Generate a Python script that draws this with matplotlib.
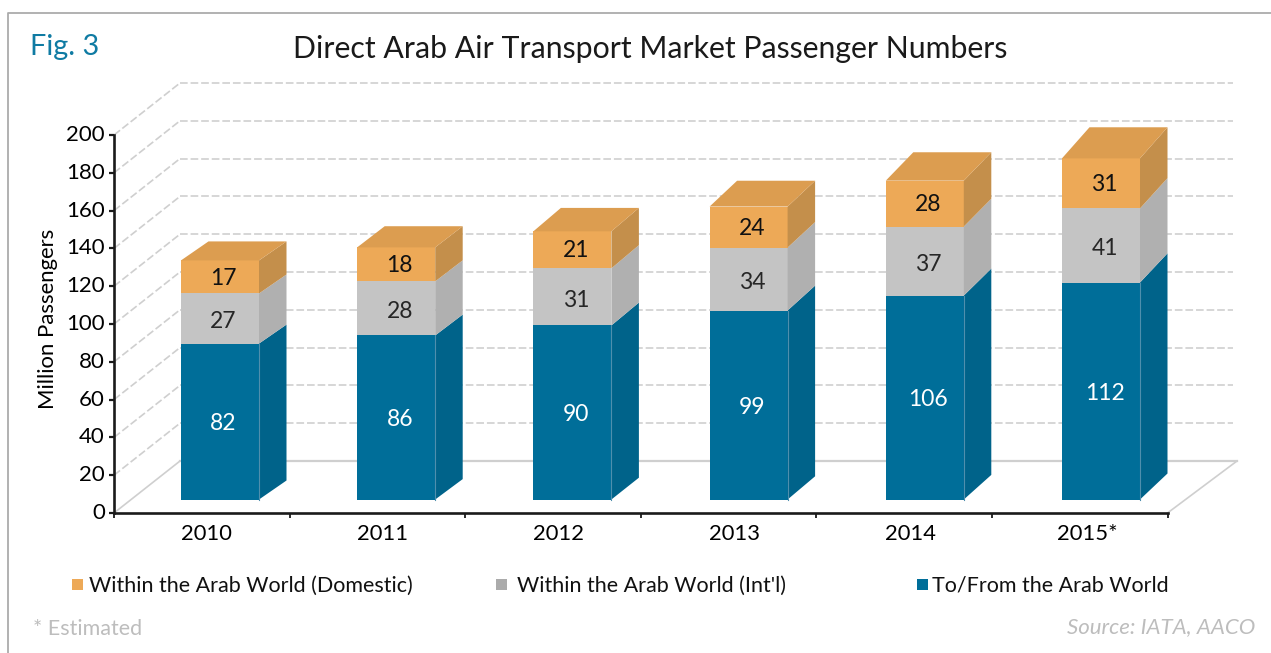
import matplotlib
matplotlib.use("Agg")
import matplotlib.pyplot as plt
from matplotlib.patches import Polygon, Rectangle
from matplotlib.transforms import ScaledTranslation

plt.rcParams['font.family'] = ['Lato', 'DejaVu Sans']

years = ['2010', '2011', '2012', '2013', '2014', '2015*']
# Printed labels
to_from_labels = [82, 86, 90, 99, 106, 112]
intl_labels = [27, 28, 31, 34, 37, 41]
domestic_labels = [17, 18, 21, 24, 28, 31]
# Segment heights as read against the value axis
to_from_heights = [82.5, 86.8, 92.1, 100.0, 107.9, 114.8]
intl_heights = [26.5, 28.6, 30.2, 33.3, 36.5, 39.2]
domestic_heights = [17.5, 18.0, 19.6, 21.7, 24.3, 26.5]
y_ticks = [0, 20, 40, 60, 80, 100, 120, 140, 160, 180, 200]
legend_labels = ['Within the Arab World (Domestic)', "Within the Arab World (Int'l)", 'To/From the Arab World']

BLUE, BLUE_S = '#006E99', '#00638A'
GREY, GREY_S = '#C4C4C4', '#B0B0B0'
ORANGE, ORANGE_S, ORANGE_T = '#EDA957', '#C48F4B', '#DC9D50'
GRID = '#CFCFCF'
INK = '#1A1A1A'

W, H = 1271, 653
fig = plt.figure(figsize=(W / 100, H / 100), dpi=100)
L, R, B, T = 114, 1167.5, 513, 135
ax = fig.add_axes([L / W, 1 - B / H, (R - L) / W, (B - T) / H])
ax.set_xlim(0, 6)
ax.set_ylim(0, 200)
ax.patch.set_visible(False)
pxx = 6 / (R - L)
pxy = 200 / (B - T)

# floor and walls
WX, WY = 66 * pxx, 52 * pxy
for v in y_ticks:
    solid = v == 0
    kw = dict(color=GRID, lw=1.2, clip_on=False, zorder=1,
              linestyle='-' if solid else (0, (4.6, 1.75)))
    ax.plot([0, WX], [v, v + WY], **kw)
    ax.plot([WX, 6 + (1233 - R) * pxx], [v + WY, v + WY], **kw)
ax.plot([6, 6 + (1237 - R) * pxx], [0, WY], color=GRID, lw=1.2, clip_on=False, zorder=1)
ax.plot([WX, 6 + (1237 - R) * pxx], [WY, WY], color=GRID, lw=1.6, clip_on=False, zorder=1)

BAR_W = 78 * pxx
CX0 = (220 - L) * pxx
STEP = 176.2 * pxx
BASE = (B - 499.5) * pxy
DX = 27.5 * pxx

def depth(i, level):
    return (19 + 1.4 * i + (level / 160) * 0.9 * i) * pxy

series = [
    (to_from_heights, to_from_labels, BLUE, BLUE_S, 'white', 4),
    (intl_heights, intl_labels, GREY, GREY_S, '#262626', 5),
    (domestic_heights, domestic_labels, ORANGE, ORANGE_S, '#111111', 3),
]
for i in range(len(years)):
    c = CX0 + STEP * i
    x0, x1 = c - BAR_W / 2, c + BAR_W / 2
    bottom = BASE
    level = 0
    for heights, labels, col, side, tc, lift in series:
        h = heights[i]
        ax.bar(c, h, BAR_W, bottom=bottom, color=col, lw=0, zorder=3)
        d0, d1 = depth(i, level), depth(i, level + h)
        ax.add_patch(Polygon([(x1, bottom), (x1 + DX, bottom + d0),
                              (x1 + DX, bottom + h + d1), (x1, bottom + h)],
                             closed=True, fc=side, ec='none', zorder=3, clip_on=False))
        ax.text(c + 3.5 * pxx, bottom + h / 2 + 1 - lift * pxy, str(labels[i]), ha='center', va='center',
                fontsize=16.5, color=tc, zorder=5)
        bottom += h
        level += h
    ax.plot([x1, x1], [BASE, BASE + to_from_heights[i]], color='#4F8FAD', lw=0.8, zorder=4)
    d = depth(i, level)
    ax.add_patch(Polygon([(x0, bottom), (x0 + DX, bottom + d), (x1 + DX, bottom + d), (x1, bottom)],
                         closed=True, fc=ORANGE_T, ec='none', zorder=3, clip_on=False))

# axes
for s in ('top', 'right'):
    ax.spines[s].set_visible(False)
for s in ('left', 'bottom'):
    ax.spines[s].set_linewidth(1.9)
    ax.spines[s].set_color(INK)
    ax.spines[s].set_zorder(6)
ax.set_yticks(y_ticks)
ax.set_xticks(range(7))
ax.set_xticklabels([])
ax.tick_params(axis='y', length=3.8, width=1.6, color=INK, labelsize=16, labelcolor='black', pad=2.8)
ax.tick_params(axis='x', length=3.6, width=1.3, color=INK, direction='out')
lift_labels = ScaledTranslation(0, 2 / 100, fig.dpi_scale_trans)
for lab in ax.get_yticklabels():
    lab.set_transform(lab.get_transform() + lift_labels)

for i, y in enumerate(years):
    ax.text((206 - L) * pxx + STEP * i, -(534.5 - B) * pxy, y, ha='center', va='center',
            fontsize=15.8, color='black', clip_on=False)

def ftext(x, y, s, **kw):
    return fig.text(x / W, 1 - y / H, s, **kw)

ftext(48, 319, 'Million Passengers', rotation=90, ha='center', va='center', fontsize=15.9, color='black')
ftext(30, 47, 'Fig. 3', ha='left', va='center', fontsize=20.8, color='#0F7BA3')
ftext(650, 49, 'Direct Arab Air Transport Market Passenger Numbers', ha='center', va='center',
      fontsize=21.8, color=INK)

for x, col, label, tx in zip([72, 496, 917], [ORANGE, '#ABABAB', BLUE], legend_labels, [89, 517, 932]):
    fig.add_artist(Rectangle((x / W, 1 - 590 / H), 11 / W, 11 / H, transform=fig.transFigure,
                             fc=col, ec='none'))
    ftext(tx, 586, label, ha='left', va='center', fontsize=15.5, color='#111111')

ftext(33, 629, '* Estimated', ha='left', va='center', fontsize=15.5, color='#BDBDBD')
ftext(1255, 627, 'Source: IATA, AACO', ha='right', va='center', fontsize=16, color='#BDBDBD', style='italic')

# panel edge
fig.add_artist(plt.Line2D([7.5 / W, 7.5 / W, 1], [0, 1 - 12.5 / H, 1 - 12.5 / H],
                          transform=fig.transFigure, color='#ABABAB', lw=1.3))

fig.savefig('out.png', dpi=100)
